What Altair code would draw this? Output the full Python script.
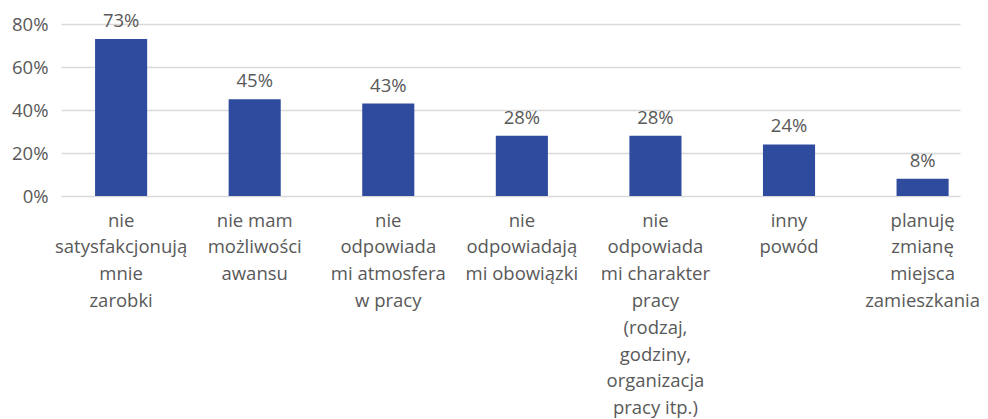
import altair as alt
import pandas as pd

categories = [
    "nie|satysfakcjonują|mnie|zarobki",
    "nie mam|możliwości|awansu",
    "nie|odpowiada|mi atmosfera|w pracy",
    "nie|odpowiadają|mi obowiązki",
    "nie|odpowiada|mi charakter|pracy|(rodzaj,|godziny,|organizacja|pracy itp.)",
    "inny|powód",
    "planuję|zmianę|miejsca|zamieszkania",
]
values = [73, 45, 43, 28, 28, 24, 8]
labels = ["73%", "45%", "43%", "28%", "28%", "24%", "8%"]
y_ticks = [0, 10, 20, 30, 40, 50, 60, 70, 80]

df = pd.DataFrame({"cat": categories, "val": values, "lab": labels})

FONT = "Open Sans"
GREY = "#595959"
BAR = "#2F4B9D"
FS = 18.5
FW = 400

x = alt.X(
    "cat:N",
    sort=None,
    title=None,
    scale=alt.Scale(paddingInner=0.61, paddingOuter=0.17, align=0.75),
    axis=alt.Axis(
        labelAngle=0,
        labelExpr="split(datum.label, '|')",
        labelFont=FONT,
        labelFontSize=FS,
        labelFontWeight=FW,
        labelColor=GREY,
        labelLineHeight=26.8,
        labelPadding=15,
        labelLimit=0,
        ticks=False,
        domain=False,
        grid=False,
    ),
)

y = alt.Y(
    "val:Q",
    title=None,
    scale=alt.Scale(domain=[0, 80], nice=False),
    axis=alt.Axis(
        values=y_ticks,
        labelExpr="datum.value % 20 == 0 ? datum.value + '%' : ''",
        labelFont=FONT,
        labelFontSize=FS,
        labelFontWeight=FW,
        labelColor=GREY,
        labelPadding=13,
        ticks=False,
        domain=False,
        grid=True,
        gridColor="#d9d9d9",
        gridWidth=1.5,
    ),
)

bars = alt.Chart(df).mark_bar(color=BAR).encode(x=x, y=y)
text = alt.Chart(df).mark_text(
    baseline="alphabetic", dy=-12, font=FONT, fontSize=FS, fontWeight=FW, color=GREY
).encode(
    x=alt.X("cat:N", sort=None),
    y=alt.Y("val:Q"),
    text="lab:N",
)

chart = (
    alt.layer(bars, text)
    .properties(
        width=899,
        height=172,
        background="white",
        autosize=alt.AutoSizeParams(type="none"),
        padding={"left": 53, "top": 16, "right": 20, "bottom": 223},
    )
    .configure_view(strokeWidth=0)
)

chart.save("out.html", embed_options={"renderer": "svg", "actions": False})
